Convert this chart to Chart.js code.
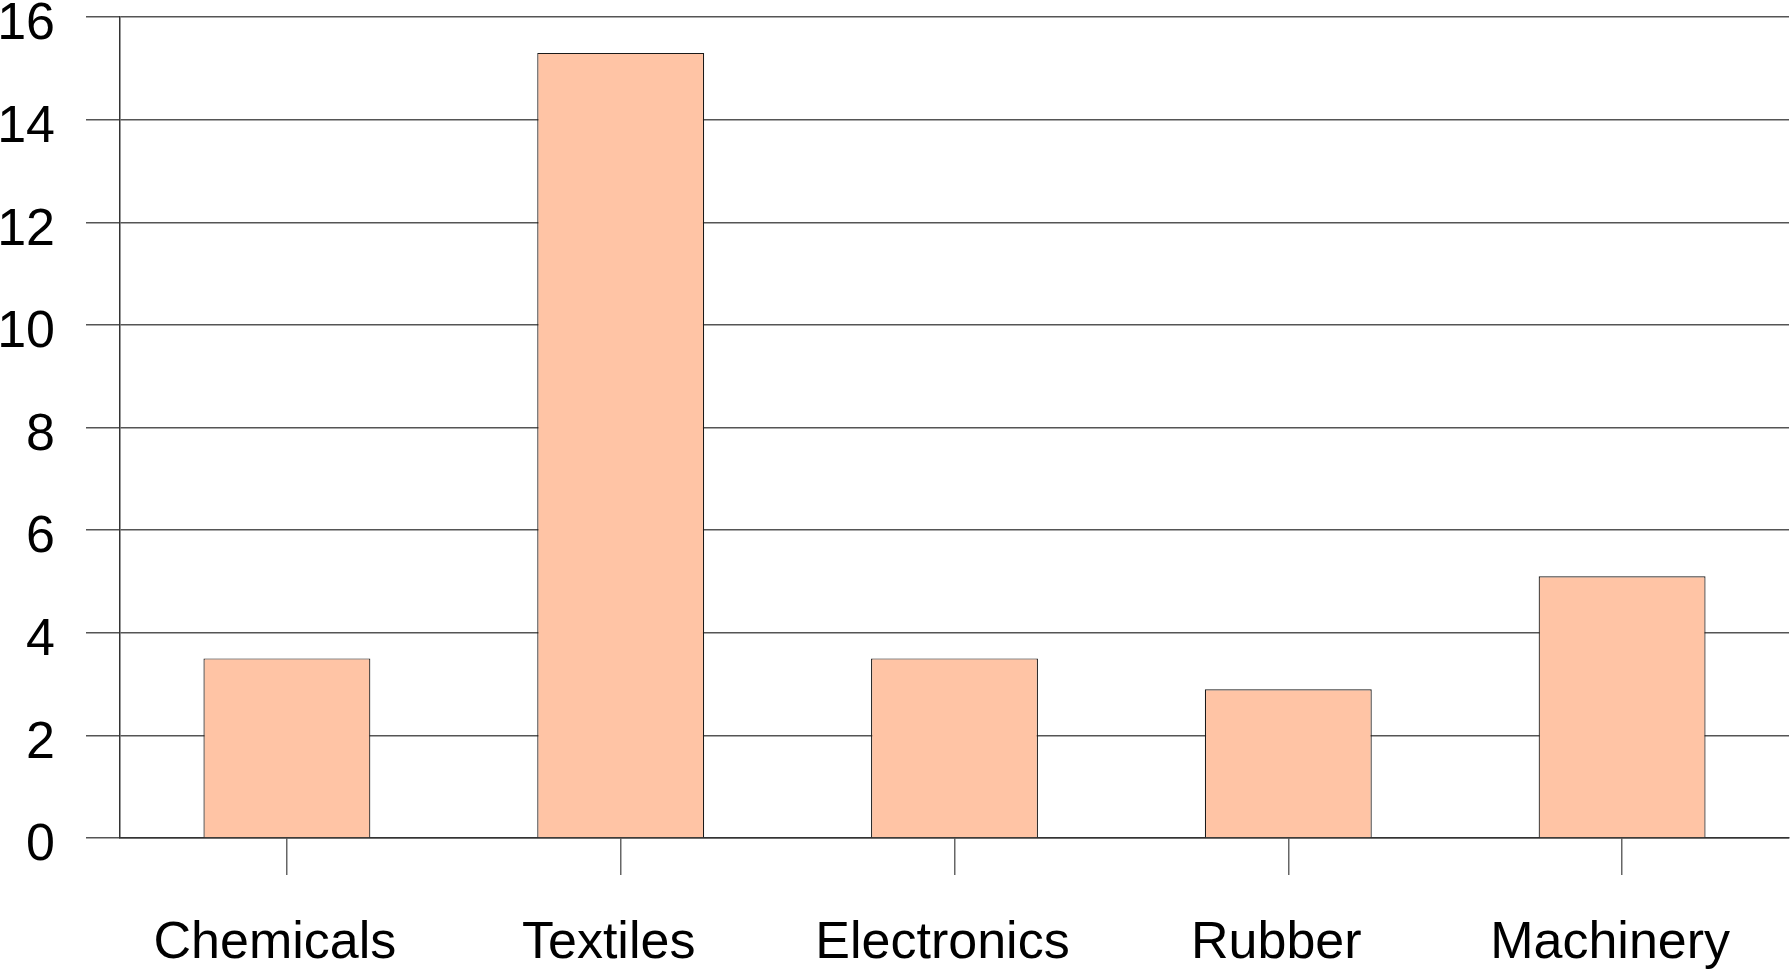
<!DOCTYPE html>
<html>
<head>
<meta charset="utf-8">
<title>Bar chart</title>
<script src="https://cdn.jsdelivr.net/npm/chart.js@4.4.0/dist/chart.umd.min.js"></script>
<style>
  html, body { margin: 0; padding: 0; background: #fff; }
  canvas { display: block; }
</style>
</head>
<body>
<canvas id="barChart" width="1790" height="969"></canvas>
<script>
const categories = ["Chemicals", "Textiles", "Electronics", "Rubber", "Machinery"];
const values = [3.5, 15.3, 3.5, 2.9, 5.1];
const yTicks = [0, 2, 4, 6, 8, 10, 12, 14, 16];

const FONT = "'Liberation Sans', Arial, sans-serif";

new Chart(document.getElementById("barChart").getContext("2d"), {
  type: "bar",
  data: {
    labels: categories,
    datasets: [{
      data: values,
      backgroundColor: "#FFC4A5",
      borderColor: "#1a1a1a",
      borderWidth: 1.2,
      barPercentage: 0.5,
      categoryPercentage: 1,
    }],
  },
  options: {
    responsive: false,
    animation: false,
    layout: { padding: { top: 17, right: 1, left: 0, bottom: 0 } },
    plugins: {
      legend: { display: false },
      tooltip: { enabled: false },
    },
    scales: {
      x: {
        afterFit: (scale) => {
          scale.height = 131;
          scale.paddingLeft = 0;
          scale.paddingRight = 0;
        },
        grid: {
          offset: false,
          drawOnChartArea: false,
          drawTicks: true,
          tickLength: 37,
          color: "#666",
          lineWidth: 1.5,
        },
        border: { display: true, color: "#333", width: 1.5 },
        ticks: {
          font: { family: FONT, size: 52 },
          color: "#000",
          padding: 37,
          labelOffset: -12,
          maxRotation: 0,
        },
      },
      y: {
        min: yTicks[0],
        max: yTicks[yTicks.length - 1],
        afterFit: (scale) => {
          scale.width = 120;
          scale.paddingTop = 0;
          scale.paddingBottom = 0;
        },
        afterBuildTicks: (scale) => { scale.ticks = yTicks.map((v) => ({ value: v })); },
        grid: {
          color: "#555",
          lineWidth: 1.5,
          drawTicks: true,
          tickLength: 34,
        },
        border: { display: true, color: "#333", width: 1.5 },
        ticks: {
          font: { family: FONT, size: 52 },
          color: "#000",
          padding: 31,
          labelOffset: 8,
        },
      },
    },
  },
});
</script>
</body>
</html>
